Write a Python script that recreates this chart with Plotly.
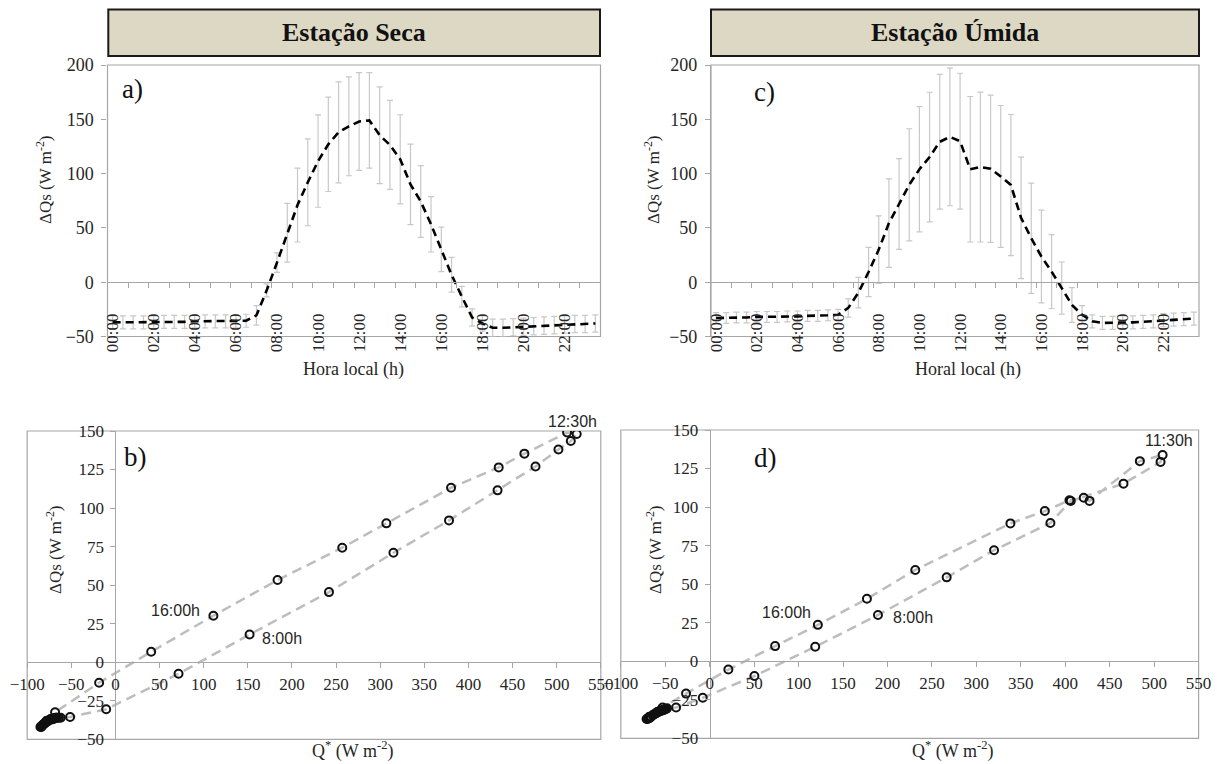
import plotly.graph_objects as go

W, H = 1217, 764

# ---------------- data ----------------
categories = [f"{h:02d}:{m:02d}" for h in range(24) for m in (0, 30)]
tick_labels = categories[::4]

# Dry season (Estação Seca)
dqs_seca = [-37, -37, -37, -37, -37, -36.5, -36.5, -36.5, -36, -36, -36, -36, -36, -35.5,
            -30.5, -7.5, 18, 45.5, 71, 92, 111.5, 127, 138, 143.5, 148, 149,
            135.3, 126.4, 113.2, 90.1, 74.3, 53.3, 30.2, 6.8, -13.3, -32.5,
            -38, -42, -42, -41.5, -41, -40.5, -40, -39.5, -39, -38.5, -38.5, -38]
err_seca = [6, 6, 6, 6, 6, 6, 6, 6, 6, 6, 6, 6, 6, 6,
            9, 6, 9, 27, 34, 40, 42.5, 43.5, 46.5, 45.5, 45, 44,
            44.5, 41, 41, 37, 33, 25.5, 20.5, 16, 9.5, 8,
            7, 8, 8, 8, 8, 8, 8, 8, 8, 8, 8, 8]
qstar_seca = [-74, -73, -73, -72, -71, -70, -70, -69, -68, -67, -66, -64, -62, -51.4,
              -10.5, 71.5, 152, 242, 315, 378, 433, 476, 502, 516, 522.7, 511.8,
              463.4, 434.3, 380.3, 307, 257, 183.7, 111, 40.5, -18.5, -68.4,
              -78, -84, -85, -84, -83, -82, -81, -80, -79, -78, -77, -76]

# Wet season (Estação Úmida)
dqs_umida = [-33, -33, -32.5, -32.5, -32, -32, -32, -31.5, -31.5, -31, -31, -30.5, -30, -23.7,
             -9.6, 9.4, 30, 54.4, 72, 89.7, 104, 115.2, 129.3, 133.8, 129.8, 104,
             106, 104.4, 97.4, 89.4, 59.2, 40.5, 23.6, 9.8, -5.4, -21,
             -30, -36, -37.5, -37.5, -37, -37, -36.5, -36, -35, -34.5, -34, -33.5]
err_umida = [5, 5, 5, 5, 5, 5, 5, 5, 5, 5, 5, 5, 5, 8.4,
             14, 22.6, 31, 40.8, 41.7, 51.6, 57.7, 59.7, 62, 63.4, 62.6, 67,
             69, 67.8, 65.3, 65, 56, 50.7, 42.7, 34, 24, 16,
             8.4, 6, 6, 6, 6, 6, 6, 6, 6, 6, 6, 6]
qstar_umida = [-59, -58, -57, -56, -55, -54, -53, -52, -51, -50, -49, -48, -37.8, -7.8,
               50.3, 118.7, 189.3, 266.6, 319.9, 383.3, 406.2, 465.5, 507.2, 509.5, 483.9, 427.3,
               420.8, 404.7, 377, 338.3, 231.3, 176.9, 121.7, 73.6, 21, -26.6,
               -53, -68, -71, -70, -69, -68, -67, -66, -64, -63, -61, -60]

idx = list(range(len(categories)))
label_idx = idx[::4]
boundary_ticks = [i - 0.5 for i in idx[2::2]]

# ---------------- helpers ----------------
def px(x):
    return x / W

def py(y):
    return 1 - y / H

SERIF = "Liberation Serif, Times New Roman, serif"
SANS = "Liberation Sans, Arial, sans-serif"
TXT = "#262626"
AX = "#a6a6a6"

A_X = [px(107.5), px(600.5)]
C_X = [px(711), px(1199)]
TOP_Y = [py(336.5), py(65)]
B_X = [px(27.2), px(600.8)]
B_Y = [py(739.3), py(431)]
D_X = [px(620.8), px(1198.6)]
D_Y = [py(738.3), py(430)]

TOP_RANGE = [-50, 200]
SC_XR = [-100, 550]
SC_YR = [-50, 150]

def at(dom, rng, v):
    return dom[0] + (v - rng[0]) / (rng[1] - rng[0]) * (dom[1] - dom[0])

fig = go.Figure()

# ---------- top panels ----------
for (xa, xl, ya, ys, es) in [("x", "x5", "y", dqs_seca, err_seca), ("x2", "x6", "y2", dqs_umida, err_umida)]:
    fig.add_trace(go.Scatter(
        x=idx, y=ys, mode="lines", xaxis=xa, yaxis=ya,
        line=dict(color="black", width=2.6, dash="8px,5px"),
        error_y=dict(type="data", array=es, color="#c8c8c8", thickness=1.2, width=3),
        hoverinfo="skip"))
    fig.add_trace(go.Scatter(
        x=[idx[0]], y=[ys[0]], mode="markers", xaxis=xl, yaxis=ya,
        marker=dict(opacity=0), hoverinfo="skip"))

# ---------- scatter panels ----------
for (xa, ya, qx, qy) in [("x3", "y3", qstar_seca, dqs_seca), ("x4", "y4", qstar_umida, dqs_umida)]:
    fig.add_trace(go.Scatter(
        x=qx, y=qy, mode="lines+markers", xaxis=xa, yaxis=ya,
        line=dict(color="#bdbdbd", width=2.5, dash="10px,6px"),
        marker=dict(symbol="circle-open", size=8, color="#111111", line=dict(width=2, color="#111111")),
        hoverinfo="skip"))

tick_font = dict(family=SERIF, size=18, color=TXT)
tick_font_s = dict(family=SERIF, size=17, color=TXT)

def top_x(dom, yd):
    return dict(domain=dom, range=[-0.5, 47.5], anchor="free", automargin=False,
                position=at(yd, TOP_RANGE, 0), showline=True, linecolor=AX, linewidth=1.2,
                tickmode="array", tickvals=boundary_ticks, ticks="outside", ticklen=5,
                tickcolor=AX, showticklabels=False, showgrid=False, zeroline=False)

def top_xlabels(base, yd):
    return dict(overlaying=base, range=[-0.5, 47.5], anchor="free", automargin=False,
                position=py(309), showline=False, ticks="", tickmode="array",
                tickvals=label_idx, ticktext=tick_labels, tickangle=-90,
                tickfont=dict(family=SERIF, size=17, color=TXT),
                showgrid=False, zeroline=False)

def top_y(anchor):
    return dict(domain=TOP_Y, range=TOP_RANGE, anchor=anchor, automargin=False, showline=True,
                linecolor=AX, linewidth=1.2, tickmode="array", tickvals=[-50, 0, 50, 100, 150, 200],
                ticks="outside", ticklen=5, tickcolor=AX, tickfont=tick_font,
                ticklabelstandoff=4, showgrid=False, zeroline=False)

def sc_x(dom, yd):
    return dict(domain=dom, range=SC_XR, anchor="free", automargin=False, position=at(yd, SC_YR, 0),
                showline=True, linecolor=AX, linewidth=1.2, tickmode="linear", tick0=-100, dtick=50,
                ticks="outside", ticklen=5, tickcolor=AX, tickfont=tick_font_s,
                ticklabelstandoff=1, showgrid=False, zeroline=False)

def sc_y(dom, xd):
    return dict(domain=dom, range=SC_YR, anchor="free", automargin=False, position=at(xd, SC_XR, 0),
                showline=True, linecolor=AX, linewidth=1.2, tickmode="linear", tick0=-50, dtick=25,
                ticks="outside", ticklen=5, tickcolor=AX, tickfont=tick_font_s,
                ticklabelstandoff=3, showgrid=False, zeroline=False)

layout = dict(
    width=W, height=H, margin=dict(l=0, r=0, t=0, b=0, pad=0, autoexpand=False),
    paper_bgcolor="white", plot_bgcolor="white", showlegend=False,
    xaxis=top_x(A_X, TOP_Y), xaxis5=top_xlabels("x", TOP_Y), yaxis=top_y("x"),
    xaxis2=top_x(C_X, TOP_Y), xaxis6=top_xlabels("x2", TOP_Y), yaxis2=top_y("x2"),
    xaxis3=sc_x(B_X, B_Y), yaxis3=sc_y(B_Y, B_X),
    xaxis4=sc_x(D_X, D_Y), yaxis4=sc_y(D_Y, D_X),
)
fig.update_layout(**layout)

# frames
shapes = []
for xa, ya in [("x", "y"), ("x2", "y2"), ("x3", "y3"), ("x4", "y4")]:
    shapes.append(dict(type="rect", xref=f"{xa} domain", yref=f"{ya} domain",
                       x0=0, x1=1, y0=0, y1=1, line=dict(color=AX, width=1.2), layer="below"))
# title boxes
for x0, x1 in [(108.3, 600), (711, 1199)]:
    shapes.append(dict(type="rect", xref="paper", yref="paper", x0=px(x0), x1=px(x1),
                       y0=py(56), y1=py(9.5), fillcolor="#ddd8c3",
                       line=dict(color="#1a1a1a", width=2)))
fig.update_layout(shapes=shapes)

ann = []
def A(text, x, y, size, family=SERIF, angle=0, color=TXT, bold=False):
    ann.append(dict(text=f"<b>{text}</b>" if bold else text, x=px(x), y=py(y), xref="paper", yref="paper",
                    showarrow=False, xanchor="center", yanchor="middle", textangle=angle,
                    font=dict(family=family, size=size, color=color)))

A("Estação Seca", 354, 33, 26, bold=True, color="#111111")
A("Estação Úmida", 955, 33, 26, bold=True, color="#111111")
A("ΔQs (W m<sup>-2</sup>)", 44, 180, 17, angle=-90)
A("ΔQs (W m<sup>-2</sup>)", 652, 180, 17, angle=-90)
A("ΔQs (W m<sup>-2</sup>)", 54, 550, 17, angle=-90)
A("ΔQs (W m<sup>-2</sup>)", 654, 550, 17, angle=-90)
A("Hora local (h)", 353, 370, 18)
A("Horal local (h)", 968, 370, 18)
A("Q<sup>*</sup> (W m<sup>-2</sup>)", 352, 750, 18)
A("Q<sup>*</sup> (W m<sup>-2</sup>)", 952, 750, 18)
A("a)", 132, 89, 27, color="#111111")
A("c)", 764, 92, 27, color="#111111")
A("b)", 135, 457, 27, color="#111111")
A("d)", 765, 458, 27, color="#111111")
A("16:00h", 175, 610, 16, family=SANS)
A("8:00h", 282, 638, 16, family=SANS)
A("12:30h", 572, 421, 16, family=SANS)
A("16:00h", 786, 612, 16, family=SANS)
A("8:00h", 913, 617, 16, family=SANS)
A("11:30h", 1169, 440, 16, family=SANS)
fig.update_layout(annotations=ann)

fig.write_html("out.html")
